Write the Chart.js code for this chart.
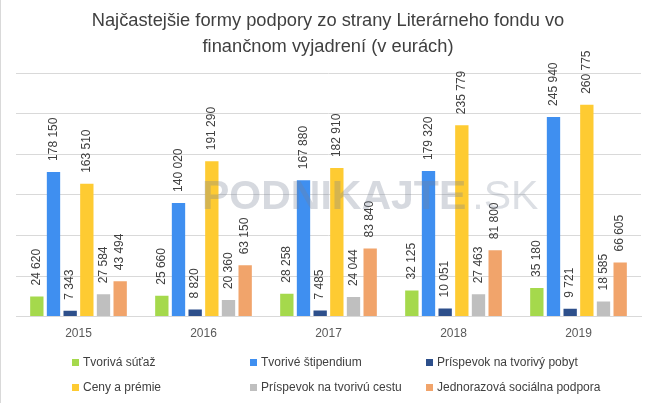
<!DOCTYPE html>
<html>
<head>
<meta charset="utf-8">
<script src="https://cdn.jsdelivr.net/npm/chart.js@4.4.1/dist/chart.umd.min.js"></script>
<style>
  body { margin: 0; background: #fff; }
  #wrap { position: relative; width: 656px; height: 403px; overflow: hidden; font-family: "Liberation Sans", Arial, sans-serif; }
  #edge { position: absolute; left: 0; top: 0; bottom: 0; width: 1px; background: #d9d9d9; }
  #title { position: absolute; left: 0; top: 7px; width: 656px; text-align: center; font-size: 18.3px; line-height: 26px; color: #404040; }
  #legend { position: absolute; left: 0; top: 0; width: 656px; height: 403px; pointer-events: none; }
  .item { position: absolute; font-size: 12px; color: #404040; white-space: nowrap; line-height: 14px; }
  .item i { display: inline-block; width: 7px; height: 7px; margin-right: 4px; vertical-align: 0px; }
  #wm { position: absolute; left: 202px; top: 172px; font-size: 41px; font-weight: bold; color: rgba(120,130,150,0.3); letter-spacing: 0px; white-space: nowrap; }
  #wm span { font-weight: normal; color: rgba(120,130,150,0.26); margin-left: 6px; }
</style>
</head>
<body>
<div id="wrap">
  <canvas id="chart" width="656" height="403"></canvas>
  <div id="title">Najčastejšie formy podpory zo strany Literárneho fondu vo<br>finančnom vyjadrení (v eurách)</div>
  <div id="wm">PODNIKAJTE<span>.SK</span></div>
  <div id="legend"></div>
  <div id="edge"></div>
</div>
<script>
const years = ['2015', '2016', '2017', '2018', '2019'];
const tvorivaSutaz = [24620, 25660, 28258, 32125, 35180];
const tvoriveStipendium = [178150, 140020, 167880, 179320, 245940];
const tvorivyPobyt = [7343, 8820, 7485, 10051, 9721];
const cenyPremie = [163510, 191290, 182910, 235779, 260775];
const tvorivaCesta = [27584, 20360, 24044, 27463, 18585];
const socialnaPodpora = [43494, 63150, 83840, 81800, 66605];

const fmt = v => String(v).replace(/\B(?=(\d{3})+(?!\d))/g, ' ');

// value labels rotated above each bar
const barLabels = {
  id: 'barLabels',
  afterDatasetsDraw(chart) {
    const ctx = chart.ctx;
    ctx.save();
    ctx.font = '12px "Liberation Sans", Arial, sans-serif';
    ctx.fillStyle = '#404040';
    ctx.textAlign = 'left';
    ctx.textBaseline = 'middle';
    chart.data.datasets.forEach((ds, i) => {
      chart.getDatasetMeta(i).data.forEach((bar, j) => {
        ctx.save();
        ctx.translate(bar.x, bar.y - 11);
        ctx.rotate(-Math.PI / 2);
        ctx.fillText(fmt(ds.data[j]), 0, 0);
        ctx.restore();
      });
    });
    ctx.restore();
  }
};

const chart = new Chart(document.getElementById('chart'), {
  type: 'bar',
  data: {
    labels: years,
    datasets: [
      { label: 'Tvorivá súťaž', data: tvorivaSutaz, backgroundColor: '#a5d94c' },
      { label: 'Tvorivé štipendium', data: tvoriveStipendium, backgroundColor: '#3f8ff0' },
      { label: 'Príspevok na tvorivý pobyt', data: tvorivyPobyt, backgroundColor: '#2d4f8b' },
      { label: 'Ceny a prémie', data: cenyPremie, backgroundColor: '#fecb32' },
      { label: 'Príspevok na tvorivú cestu', data: tvorivaCesta, backgroundColor: '#bfbfbf' },
      { label: 'Jednorazová sociálna podpora', data: socialnaPodpora, backgroundColor: '#f1a46b' }
    ]
  },
  options: {
    responsive: false,
    animation: false,
    layout: { padding: { top: 73, left: 16, right: 15, bottom: 52 } },
    datasets: { bar: { categoryPercentage: 0.8, barPercentage: 0.8 } },
    plugins: {
      legend: { display: false },
      title: { display: false },
      tooltip: { enabled: false }
    },
    scales: {
      x: {
        grid: { display: false, drawTicks: false },
        border: { color: '#d9d9d9', width: 1 },
        ticks: { color: '#595959', font: { size: 12, family: '"Liberation Sans", Arial, sans-serif' }, padding: 10 }
      },
      y: {
        min: 0,
        max: 300000,
        grid: { color: '#d9d9d9', drawTicks: false },
        border: { display: false },
        ticks: { display: false, stepSize: 50000 }
      }
    }
  },
  plugins: [barLabels]
});

// legend laid out in three columns, two rows
const legendPos = [[72, 355], [250, 355], [426, 355], [72, 380], [250, 380], [426, 380]];
const legend = document.getElementById('legend');
chart.data.datasets.forEach((ds, i) => {
  const el = document.createElement('div');
  el.className = 'item';
  el.style.left = legendPos[i][0] + 'px';
  el.style.top = legendPos[i][1] + 'px';
  el.innerHTML = '<i style="background:' + ds.backgroundColor + '"></i>' + ds.label;
  legend.appendChild(el);
});
</script>
</body>
</html>
